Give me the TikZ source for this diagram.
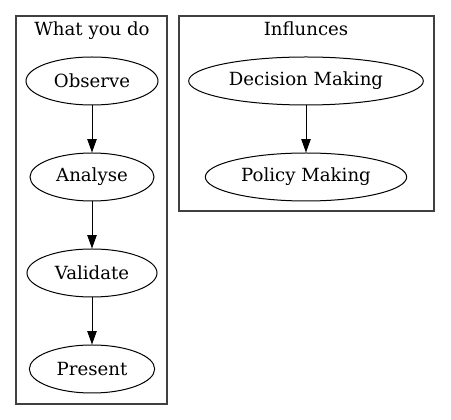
\documentclass[tikz,border=0pt]{standalone}
\usepackage{fontspec}
\setmainfont{DejaVu Serif}
\usetikzlibrary{arrows.meta,shapes.geometric}
\tikzset{
  ell/.style={draw=black, ellipse, line width=0.75pt, inner sep=0pt, minimum height=36pt, font=\fontsize{13.6pt}{16pt}\selectfont},
  cluster/.style={draw=black!75, line width=0.9pt},
  title/.style={anchor=base, font=\fontsize{13.6pt}{16pt}\selectfont},
  arrow/.style={-{Triangle[length=10pt,width=7pt]}, line width=0.75pt, draw=black}
}
\begin{document}
\begin{tikzpicture}[x=0.75pt, y=-0.75pt]
  \useasboundingbox (0,0) rectangle (451,420);
  % clusters
  \draw[cluster] (16,16) rectangle (167,404);
  \node[title] (whattitle) at (92,35.5) {What you do};
  \draw[cluster] (179,16) rectangle (434,211);
  \node[title] (inftitle) at (306,35.5) {Influnces};
  % nodes
  \node[ell, minimum width=99pt] (observe) at (92,81) {Observe};
  \node[ell, minimum width=93pt] (analyse) at (92,177) {Analyse};
  \node[ell, minimum width=97.5pt] (validate) at (92,273) {Validate};
  \node[ell, minimum width=94pt] (present) at (92,369) {Present};
  \node[ell, minimum width=176pt] (decision) at (306,81) {Decision Making};
  \node[ell, minimum width=151pt] (policy) at (306,177) {Policy Making};
  % edges
  \draw[arrow] (observe.south) -- (analyse.north);
  \draw[arrow] (analyse.south) -- (validate.north);
  \draw[arrow] (validate.south) -- (present.north);
  \draw[arrow] (decision.south) -- (policy.north);
\end{tikzpicture}
\end{document}
